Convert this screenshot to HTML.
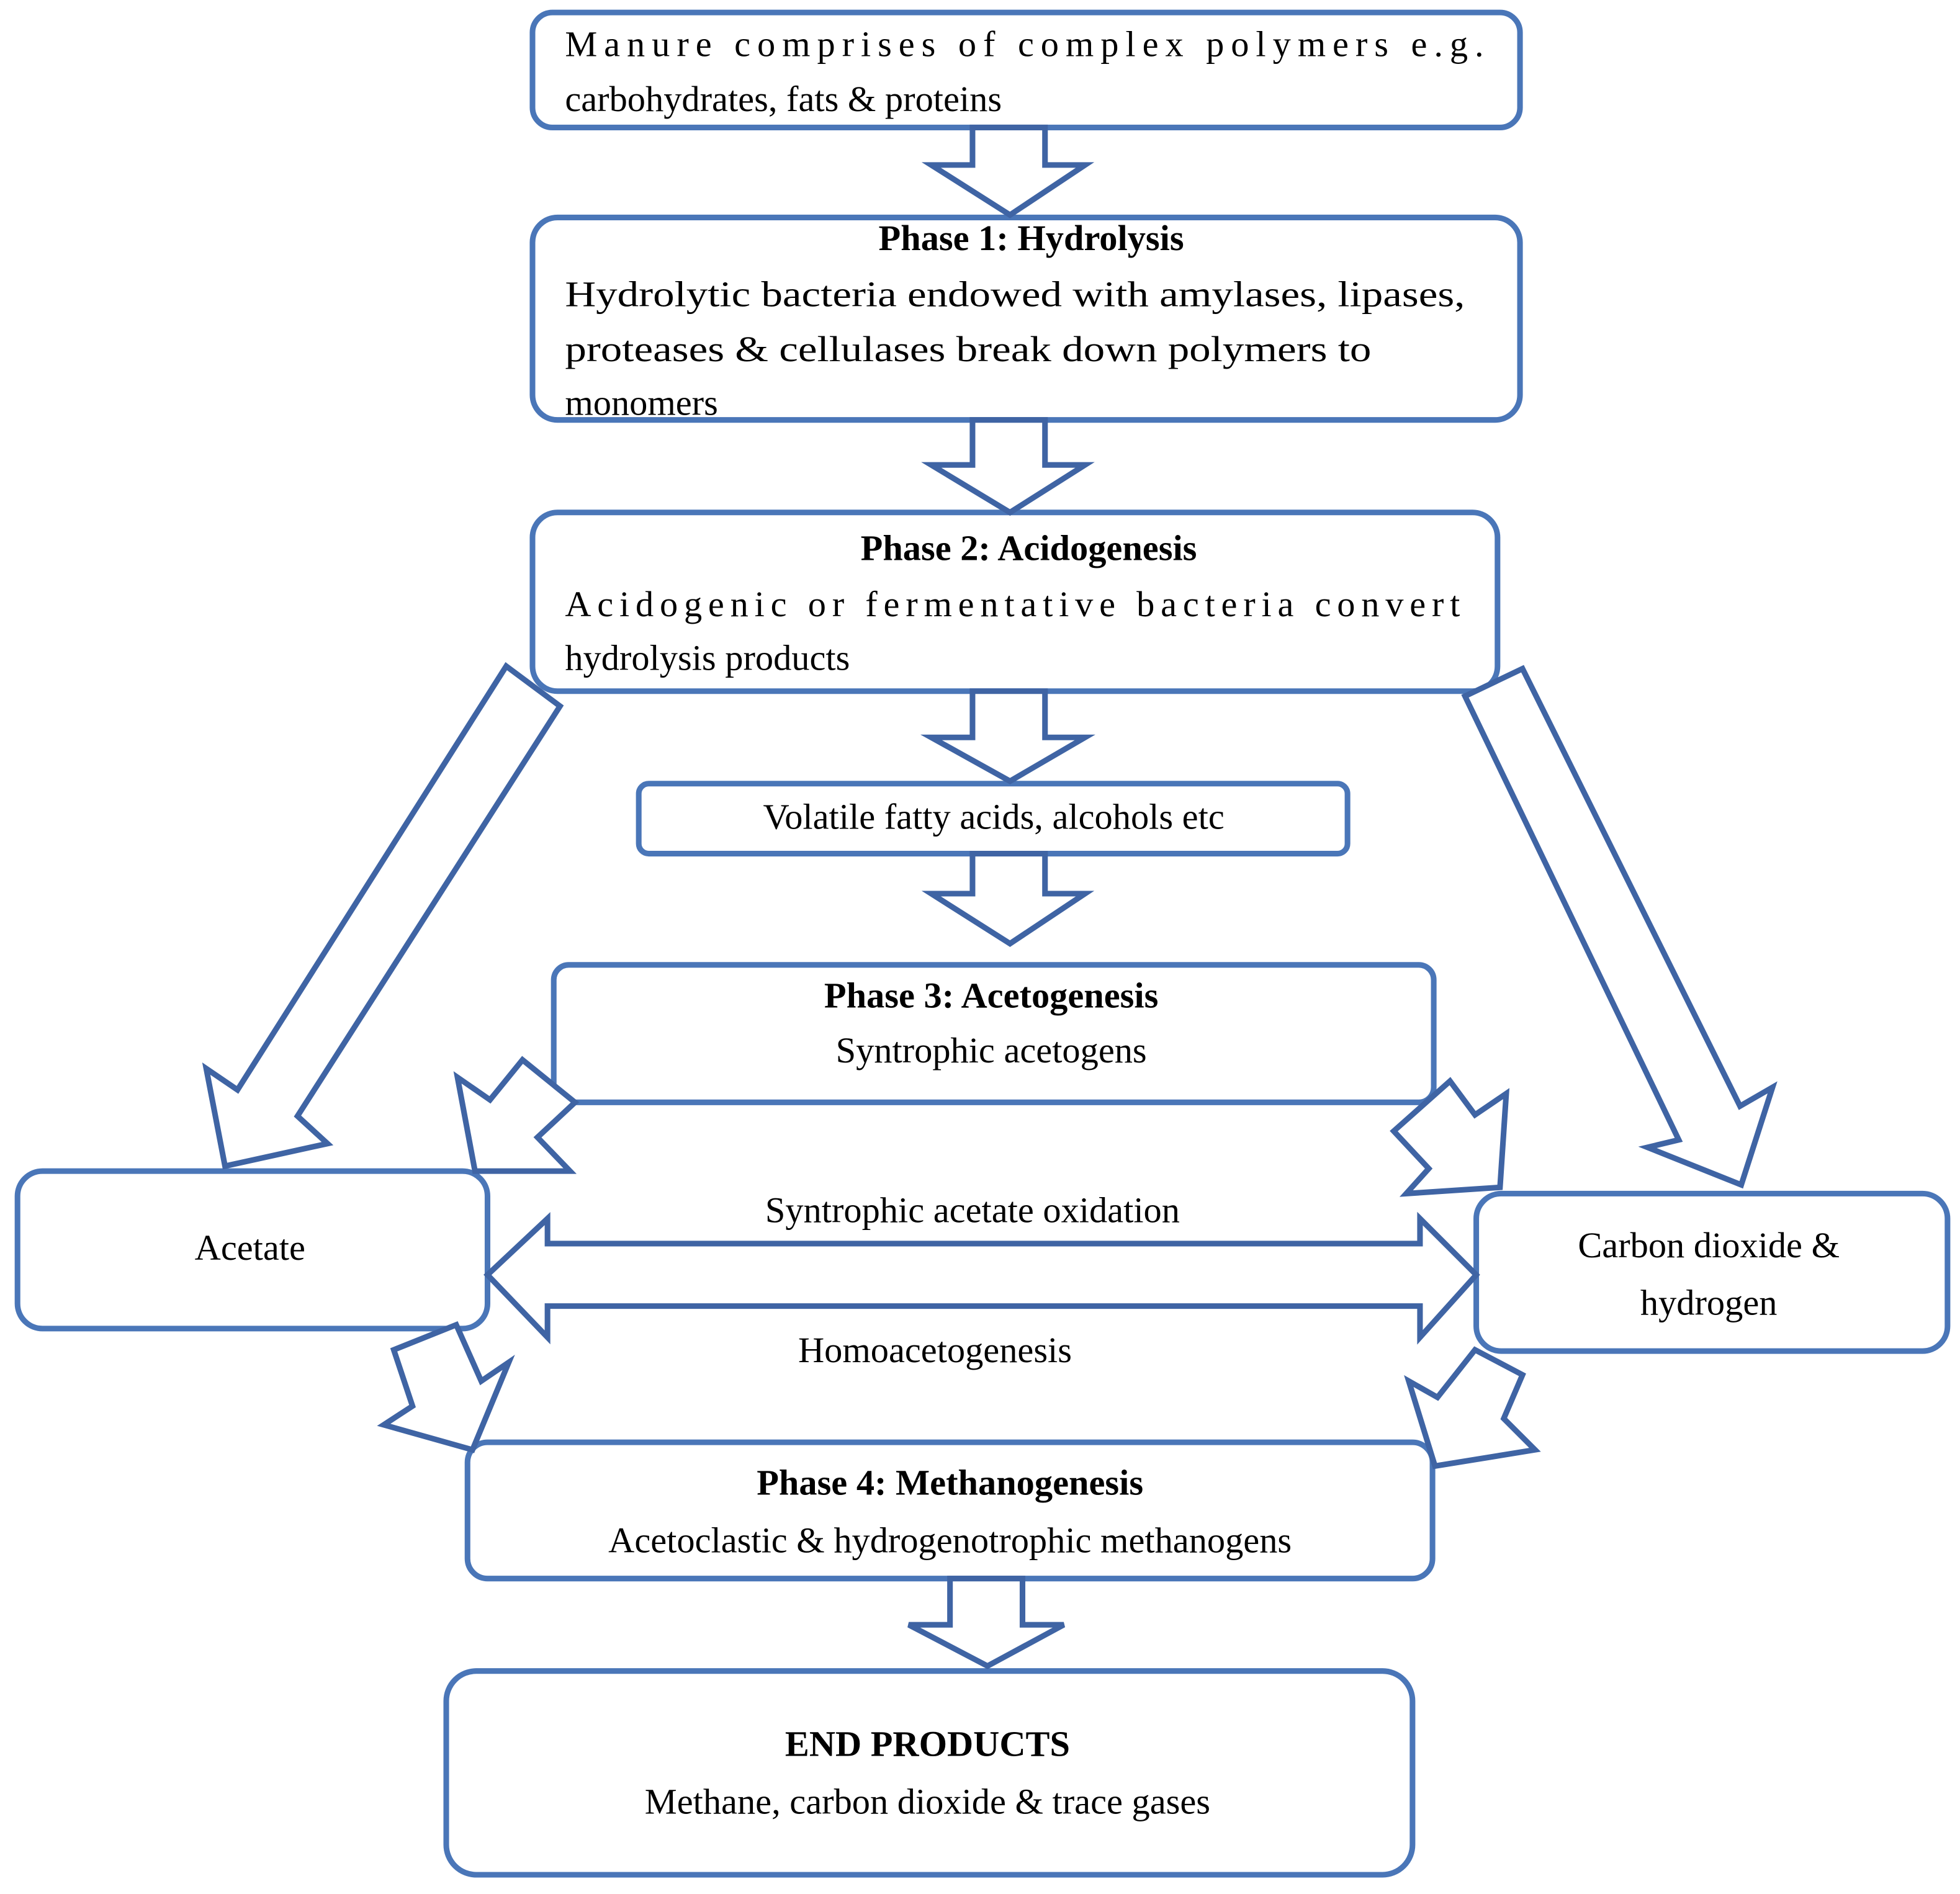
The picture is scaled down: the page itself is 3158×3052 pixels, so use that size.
<!DOCTYPE html>
<html><head><meta charset="utf-8"><style>
html,body{margin:0;padding:0;background:#fff;}
svg{display:block;}
text{font-family:"Liberation Serif",serif;font-size:29px;fill:#000;}
.b{font-weight:bold;}
</style></head><body>
<svg width="3158" height="3052" viewBox="0 0 1568 1515.4" preserveAspectRatio="none" xmlns="http://www.w3.org/2000/svg">
<g fill="#fff" stroke="#4a76b8" stroke-width="4.5">
<rect x="426" y="10" width="790" height="92" rx="16"/>
<rect x="426" y="174" width="790" height="162" rx="20"/>
<rect x="426" y="410" width="772" height="143" rx="20"/>
<rect x="511" y="627" width="567" height="56" rx="8"/>
<rect x="443" y="772" width="704" height="110" rx="12"/>
<rect x="14" y="937" width="376" height="126" rx="20"/>
<rect x="1181" y="955" width="377" height="126" rx="20"/>
<rect x="374" y="1154" width="772" height="109" rx="16"/>
<rect x="357" y="1337" width="773" height="163" rx="24"/>
</g>
<g fill="#fff" stroke="#3f64a4" stroke-width="4.5" stroke-linejoin="miter">
<polygon points="778,102 836,102 836,132 868,132 808,172 745,132 778,132"/>
<polygon points="778,336 836,336 836,372 868,372 808,410 745,372 778,372"/>
<polygon points="778,553 836,553 836,590 868,590 808,625 745,590 778,590"/>
<polygon points="778,683 836,683 836,715 868,715 808,755 745,715 778,715"/>
<polygon points="760,1263 818,1263 818,1300 851,1300 790,1333 727,1300 760,1300"/>
<polygon points="405,533 448,565 238,893 262,915 180,933 165,855 190,872"/>
<polygon points="1172,557 1218,535 1392,885 1418,870 1393,948 1318,918 1343,912"/>
<polygon points="366,862 392,880 418,848 460,882 430,910 456,937 380,937"/>
<polygon points="1160,865 1180,892 1205,875 1200,950 1125,955 1143,935 1115,905"/>
<polygon points="390,1020 438,975 438,995 1136,995 1136,975 1181,1020 1136,1070 1136,1045 438,1045 438,1070"/>
<polygon points="365,1060 385,1105 407,1090 378,1160 307,1140 330,1125 315,1080"/>
<polygon points="1180,1080 1218,1100 1203,1135 1228,1160 1148,1173 1127,1105 1150,1118"/>
</g>
<text x="452" y="45" textLength="735" lengthAdjust="spacing">Manure comprises of complex polymers e.g.</text>
<text x="452" y="89">carbohydrates, fats &amp; proteins</text>
<text x="825" y="200" text-anchor="middle" class="b">Phase 1: Hydrolysis</text>
<text x="452" y="245" textLength="720" lengthAdjust="spacingAndGlyphs">Hydrolytic bacteria endowed with amylases, lipases,</text>
<text x="452" y="289" textLength="645" lengthAdjust="spacingAndGlyphs">proteases &amp; cellulases break down polymers to</text>
<text x="452" y="332">monomers</text>
<text x="823" y="448" text-anchor="middle" class="b">Phase 2: Acidogenesis</text>
<text x="452" y="493" textLength="716" lengthAdjust="spacing">Acidogenic or fermentative bacteria convert</text>
<text x="452" y="536">hydrolysis products</text>
<text x="795" y="663" text-anchor="middle">Volatile fatty acids, alcohols etc</text>
<text x="793" y="806" text-anchor="middle" class="b">Phase 3: Acetogenesis</text>
<text x="793" y="850" text-anchor="middle">Syntrophic acetogens</text>
<text x="200" y="1008" text-anchor="middle">Acetate</text>
<text x="1367" y="1006" text-anchor="middle">Carbon dioxide &amp;</text>
<text x="1367" y="1052" text-anchor="middle">hydrogen</text>
<text x="778" y="978" text-anchor="middle">Syntrophic acetate oxidation</text>
<text x="748" y="1090" text-anchor="middle">Homoacetogenesis</text>
<text x="760" y="1196" text-anchor="middle" class="b">Phase 4: Methanogenesis</text>
<text x="760" y="1242" text-anchor="middle">Acetoclastic &amp; hydrogenotrophic methanogens</text>
<text x="742" y="1405" text-anchor="middle" class="b">END PRODUCTS</text>
<text x="742" y="1451" text-anchor="middle">Methane, carbon dioxide &amp; trace gases</text>
</svg>
</body></html>
